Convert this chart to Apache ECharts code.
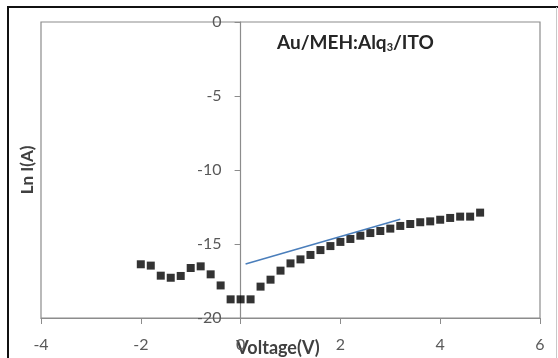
<!DOCTYPE html>
<html>
<head>
<meta charset="utf-8">
<script src="https://cdn.jsdelivr.net/npm/echarts@6/dist/echarts.min.js"></script>
<style>
  html, body { margin: 0; padding: 0; background: #fff; }
  #chart { width: 558px; height: 358px; }
</style>
</head>
<body>
<div id="chart"></div>
<script>
// measured points, Ln I vs voltage
const voltage = [-2.0, -1.8, -1.6, -1.4, -1.2, -1.0, -0.8, -0.6, -0.4, -0.2, 0.0, 0.2,
  0.4, 0.6, 0.8, 1.0, 1.2, 1.4, 1.6, 1.8, 2.0, 2.2, 2.4, 2.6, 2.8, 3.0, 3.2, 3.4,
  3.6, 3.8, 4.0, 4.2, 4.4, 4.6, 4.8];
const lnI = [-16.37, -16.46, -17.14, -17.28, -17.16, -16.62, -16.51, -17.05, -17.8, -18.74, -18.74, -18.74,
  -17.88, -17.41, -16.8, -16.31, -16.04, -15.74, -15.41, -15.14, -14.86, -14.66, -14.44, -14.26, -14.12, -13.96, -13.78, -13.65,
  -13.53, -13.47, -13.36, -13.24, -13.15, -13.15, -12.88];
// linear fit line end points
const fitV = [0.1, 3.2];
const fitLnI = [-16.35, -13.33];

const xTicks = [-4, -2, 0, 2, 4, 6];
const yTicks = [0, -5, -10, -15, -20];

const myChart = echarts.init(document.getElementById("chart"));

const gridLeft = 41, gridRight = 18;
const plotW = 558 - gridLeft - gridRight;
// shift y axis so it crosses at x = 0
const yAxisShift = plotW * (0 - xTicks[0]) / (xTicks[xTicks.length - 1] - xTicks[0]);

const labelFont = { color: "#595959", fontSize: 16, fontFamily: "Lato" };

const option = {
  animation: false,
  grid: {
    show: true,
    left: gridLeft,
    right: gridRight,
    top: 22,
    bottom: 40,
    borderColor: "#8c8c8c",
    borderWidth: 1.2,
  },
  xAxis: {
    type: "value",
    min: xTicks[0],
    max: xTicks[xTicks.length - 1],
    interval: 2,
    axisLine: { onZero: false, lineStyle: { color: "#8c8c8c", width: 1.2 } },
    axisTick: { show: true, length: 6, lineStyle: { color: "#8c8c8c" } },
    splitLine: { show: false },
    axisLabel: Object.assign({ margin: 19 }, labelFont),
  },
  yAxis: {
    type: "value",
    min: yTicks[yTicks.length - 1],
    max: yTicks[0],
    interval: 5,
    offset: -yAxisShift,
    axisLine: { show: true, onZero: false, lineStyle: { color: "#8c8c8c", width: 1.2 } },
    axisTick: { show: true, length: 6, lineStyle: { color: "#8c8c8c" } },
    splitLine: { show: false },
    axisLabel: Object.assign({ margin: 19 }, labelFont),
  },
  series: [
    {
      type: "scatter",
      data: voltage.map((v, i) => [v, lnI[i]]),
      symbol: "rect",
      symbolSize: 8,
      itemStyle: { color: "#000" },
      z: 3,
    },
    {
      type: "line",
      data: fitV.map((v, i) => [v, fitLnI[i]]),
      symbol: "none",
      lineStyle: { color: "#4a7ebb", width: 1.5 },
      z: 4,
    },
  ],
  graphic: [
    // outer chart border
    { type: "line", shape: { x1: 8, y1: 7, x2: 8, y2: 358 }, style: { stroke: "#111", lineWidth: 2 } },
    { type: "line", shape: { x1: 7, y1: 7, x2: 558, y2: 7 }, style: { stroke: "#111", lineWidth: 2 } },
    { type: "line", shape: { x1: 556.5, y1: 7, x2: 556.5, y2: 358 }, style: { stroke: "#c8c8c8", lineWidth: 1 } },
    {
      type: "text",
      left: 277,
      top: 33,
      style: {
        text: "{b|Au/MEH:Alq}{s|3}{b|/ITO}",
        rich: {
          b: { fontFamily: "Lato", fontWeight: "bold", fontSize: 19, fill: "#262626" },
          s: { fontFamily: "Lato", fontWeight: "bold", fontSize: 11, fill: "#262626", padding: [10, 0, 0, 0] },
        },
      },
    },
    {
      type: "text",
      x: 278,
      y: 348,
      style: {
        text: "Voltage(V)",
        fontFamily: "Lato",
        fontWeight: "bold",
        fontSize: 18,
        fill: "#404040",
        align: "center",
        verticalAlign: "middle",
      },
    },
    {
      type: "text",
      x: 28,
      y: 170,
      rotation: Math.PI / 2,
      style: {
        text: "Ln I(A)",
        fontFamily: "Lato",
        fontWeight: "bold",
        fontSize: 17,
        fill: "#404040",
        align: "center",
        verticalAlign: "middle",
      },
    },
  ],
};

myChart.setOption(option);
</script>
</body>
</html>
